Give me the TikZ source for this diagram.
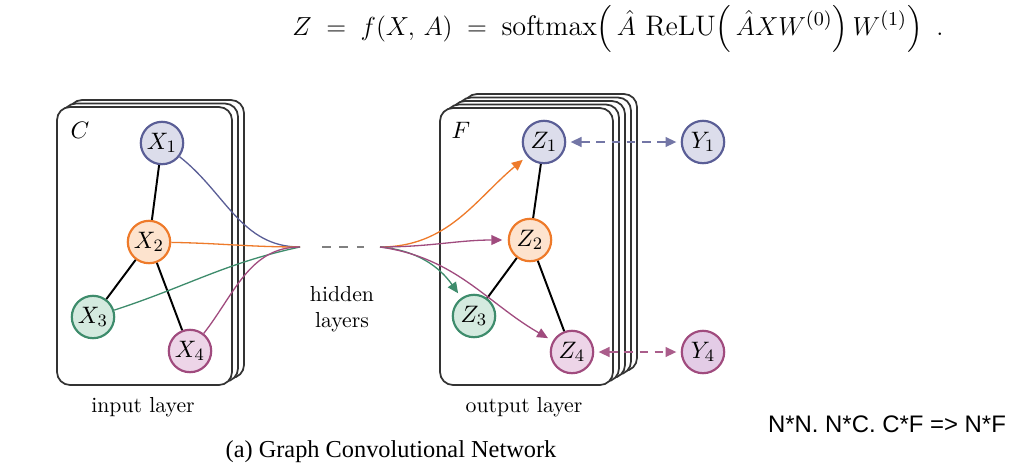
\documentclass[tikz,border=0pt]{standalone}
\usepackage{amsmath}
\usepackage{fontspec}
\usetikzlibrary{arrows.meta}
\newfontfamily\capfont{Liberation Serif}
\newfontfamily\notefont{Liberation Sans}
\definecolor{cblueD}{HTML}{5A5E96}
\definecolor{cblueL}{HTML}{DCDDEB}
\definecolor{corgD}{HTML}{EE7A2A}
\definecolor{corgL}{HTML}{FDE3CE}
\definecolor{cgrnD}{HTML}{3E8C6C}
\definecolor{cgrnL}{HTML}{D4EADF}
\definecolor{cpnkD}{HTML}{A04B7E}
\definecolor{cpnkL}{HTML}{EDD5E8}
\definecolor{cpnkY}{HTML}{E3CCE6}
\definecolor{cardline}{HTML}{333333}
\tikzset{
  card/.style={draw=cardline, line width=0.8pt, fill=white, rounded corners=6pt},
  gnode/.style={circle, minimum size=19.5pt, inner sep=0pt, line width=1pt, font=\fontsize{11}{13}\selectfont},
  nblue/.style={gnode, draw=cblueD, fill=cblueL},
  norg/.style={gnode, draw=corgD, fill=corgL},
  ngrn/.style={gnode, draw=cgrnD, fill=cgrnL},
  npnk/.style={gnode, draw=cpnkD, fill=cpnkL},
  nypk/.style={gnode, draw=cpnkD, fill=cpnkY},
  edge/.style={line width=0.9pt, black},
  flow/.style={line width=0.6pt},
  arr/.style={flow, -{Triangle[length=5pt,width=4.5pt]}, shorten >=2.5pt},
  darr/.style={line width=0.8pt, dash pattern=on 4pt off 3pt, {Triangle[length=5pt,width=4.5pt]}-{Triangle[length=5pt,width=4.5pt]}, shorten >=2pt, shorten <=2pt},
  lbl/.style={font=\fontsize{10}{12}\selectfont, align=center}
}
\begin{document}
\begin{tikzpicture}[x=0.46pt, y=-0.46pt]
\useasboundingbox (0,0) rectangle (1012,463);

% formula
\node[anchor=base west, inner sep=0pt, font=\fontsize{13}{15}\selectfont] (eq) at (292,35)
  {$Z\;=\;f(X,\,A)\;=\;\mathrm{softmax}\Bigl(\,\hat{A}\ \mathrm{ReLU}\Bigl(\,\hat{A}XW^{(0)}\Bigr)\,W^{(1)}\Bigr)\ \,.$};

% left card stack
\foreach \k in {2,1,0}
  \draw[card] (57+6*\k,107-3.5*\k) rectangle (232+6*\k,385-3.5*\k);
% right card stack
\foreach \k in {4,3,2,1,0}
  \draw[card] (440+6*\k,108-3.5*\k) rectangle (613+6*\k,385-3.5*\k);

\node[font=\fontsize{11}{13}\selectfont] (C) at (80,130) {$C$};
\node[font=\fontsize{11}{13}\selectfont] (F) at (461,130) {$F$};

% input nodes
\node[nblue] (X1) at (162,143) {$X_1$};
\node[norg]  (X2) at (149,242) {$X_2$};
\node[ngrn]  (X3) at (93,317)  {$X_3$};
\node[npnk]  (X4) at (190,351) {$X_4$};

% output nodes
\node[nblue] (Z1) at (544,142) {$Z_1$};
\node[norg]  (Z2) at (530,240) {$Z_2$};
\node[ngrn]  (Z3) at (474,316) {$Z_3$};
\node[npnk]  (Z4) at (572,352) {$Z_4$};

\node[nblue] (Y1) at (703,142) {$Y_1$};
\node[nypk]  (Y4) at (703,352) {$Y_4$};

% graph edges
\draw[edge] (X1) -- (X2);
\draw[edge] (X2) -- (X3);
\draw[edge] (X2) -- (X4);
\draw[edge] (Z1) -- (Z2);
\draw[edge] (Z2) -- (Z3);
\draw[edge] (Z2) -- (Z4);

% hubs
\coordinate (hubL) at (300,247);
\coordinate (hubR) at (380,247);
\coordinate (dA) at (322,247);
\coordinate (dB) at (364,247);
\draw[gray, line width=0.8pt, dash pattern=on 4pt off 4pt] (dA) -- (dB);

% left flows
\draw[flow, cblueD] (X1) to[out=-38, in=180] (hubL);
\draw[flow, corgD]  (X2) to[out=-1, in=180] (hubL);
\draw[flow, cgrnD]  (X3) to[out=18, in=192] (hubL);
\draw[flow, cpnkD]  (X4) to[out=52, in=180] (hubL);

% right flows
\draw[arr, corgD] (hubR) to[out=0, in=-140] (Z1);
\draw[arr, cpnkD] (hubR) to[out=0, in=180] (Z2);
\draw[arr, cgrnD] (hubR) to[out=-5, in=125] (Z3);
\draw[arr, cpnkD] (hubR) to[out=-8, in=150] (Z4);

% supervision
\draw[darr, cblueD!85] (Z1) -- (Y1);
\draw[darr, cpnkD!90] (Z4) -- (Y4);

% labels
\node[lbl] (hid) at (342,309) {hidden\\layers};
\node[lbl] (inl) at (143,407) {input layer};
\node[lbl] (outl) at (524,407) {output layer};
\node[anchor=base, inner sep=0pt, font=\capfont\fontsize{11.2}{13}\selectfont] (cap) at (391,457) {(a) Graph Convolutional Network};
\node[font=\notefont\fontsize{11}{13}\selectfont] (note) at (887,424) {N*N. N*C. C*F => N*F};
\end{tikzpicture}
\end{document}
